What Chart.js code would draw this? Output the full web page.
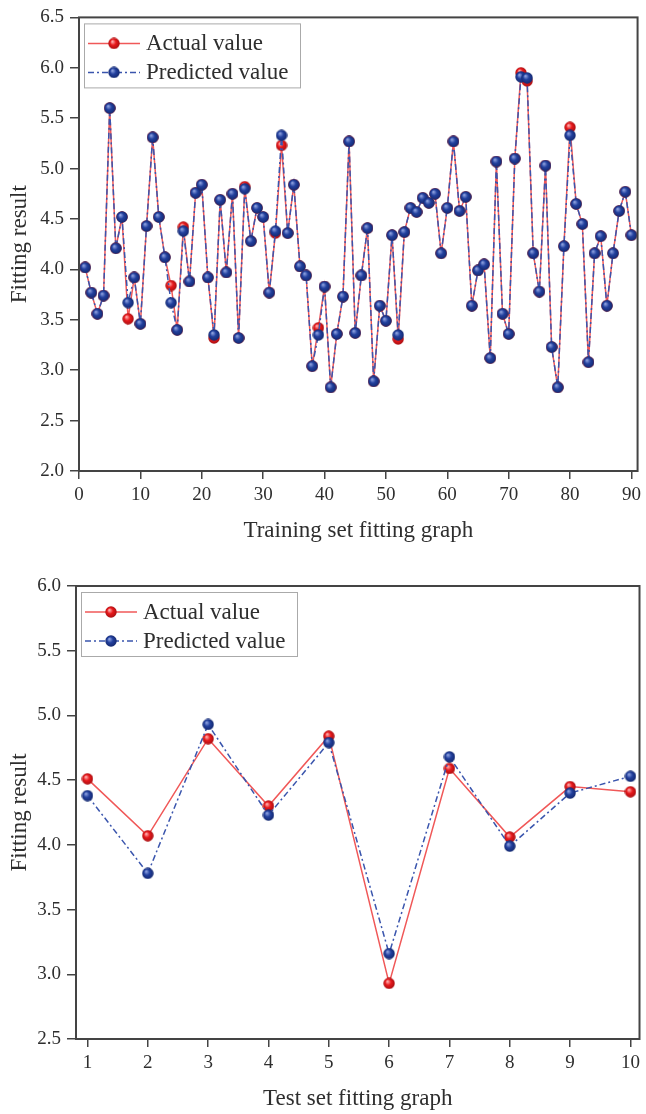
<!DOCTYPE html>
<html>
<head>
<meta charset="utf-8">
<script src="https://cdn.jsdelivr.net/npm/chart.js@4.4.1/dist/chart.umd.min.js"></script>
<style>
  html, body { margin: 0; padding: 0; background: #fff; }
  body { width: 646px; height: 1114px; overflow: hidden; }
  canvas { display: block; }
</style>
</head>
<body>
<canvas id="trainChart" width="646" height="557"></canvas>
<canvas id="testChart" width="646" height="557"></canvas>
<script>
// training set (samples 1..90)
const trainActual = [
  4.02, 3.77, 3.56, 3.74, 5.60, 4.21, 4.52, 3.51, 3.92, 3.46,
  4.43, 5.31, 4.52, 4.12, 3.84, 3.40, 4.42, 3.88, 4.76, 4.84,
  3.92, 3.32, 4.69, 3.97, 4.75, 3.32, 4.82, 4.28, 4.61, 4.52,
  3.77, 4.36, 5.23, 4.36, 4.84, 4.03, 3.94, 3.04, 3.42, 3.83,
  2.83, 3.36, 3.73, 5.27, 3.37, 3.94, 4.41, 2.89, 3.64, 3.49,
  4.34, 3.31, 4.37, 4.61, 4.57, 4.71, 4.66, 4.75, 4.16, 4.61,
  5.27, 4.58, 4.72, 3.64, 3.99, 4.05, 3.12, 5.07, 3.56, 3.36,
  5.10, 5.95, 5.87, 4.16, 3.78, 5.03, 3.23, 2.83, 4.23, 5.41,
  4.65, 4.45, 3.08, 4.16, 4.33, 3.64, 4.16, 4.58, 4.77, 4.34
];
const trainPredicted = [
  4.02, 3.77, 3.56, 3.74, 5.60, 4.21, 4.52, 3.67, 3.92, 3.46,
  4.43, 5.31, 4.52, 4.12, 3.67, 3.40, 4.38, 3.88, 4.76, 4.84,
  3.92, 3.35, 4.69, 3.97, 4.75, 3.32, 4.80, 4.28, 4.61, 4.52,
  3.77, 4.38, 5.33, 4.36, 4.84, 4.03, 3.94, 3.04, 3.35, 3.83,
  2.83, 3.36, 3.73, 5.27, 3.37, 3.94, 4.41, 2.89, 3.64, 3.49,
  4.34, 3.35, 4.37, 4.61, 4.57, 4.71, 4.66, 4.75, 4.16, 4.61,
  5.27, 4.58, 4.72, 3.64, 3.99, 4.05, 3.12, 5.07, 3.56, 3.36,
  5.10, 5.91, 5.90, 4.16, 3.78, 5.03, 3.23, 2.83, 4.23, 5.33,
  4.65, 4.45, 3.08, 4.16, 4.33, 3.64, 4.16, 4.58, 4.77, 4.34
];
const trainXTicks = [0, 10, 20, 30, 40, 50, 60, 70, 80, 90];
const trainYTicks = [2.0, 2.5, 3.0, 3.5, 4.0, 4.5, 5.0, 5.5, 6.0, 6.5];

// test set (samples 1..10)
const testActual = [4.51, 4.07, 4.82, 4.30, 4.84, 2.93, 4.59, 4.06, 4.45, 4.41];
const testPredicted = [4.38, 3.78, 4.93, 4.23, 4.79, 3.16, 4.68, 3.99, 4.40, 4.53];
const testXTicks = [1, 2, 3, 4, 5, 6, 7, 8, 9, 10];
const testYTicks = [2.5, 3.0, 3.5, 4.0, 4.5, 5.0, 5.5, 6.0];

const seriesNames = ['Actual value', 'Predicted value'];
const FONT = '"Liberation Serif", "Times New Roman", serif';
const INK = '#444';
const TEXT = '#2e2e2e';

// small shaded balls used as markers
function makeBall(light, mid, dark) {
  const c = document.createElement('canvas');
  c.width = 12; c.height = 12;
  const g = c.getContext('2d');
  const grad = g.createRadialGradient(4.3, 4, 0.4, 6, 6, 6);
  grad.addColorStop(0, light);
  grad.addColorStop(0.45, mid);
  grad.addColorStop(1, dark);
  g.fillStyle = grad;
  g.beginPath();
  g.arc(6, 6, 5.7, 0, Math.PI * 2);
  g.fill();
  return c;
}
const redBall = makeBall('#ffb0b0', '#e8191c', '#a50e10');
const blueBall = makeBall('#8ea2e0', '#22409e', '#13276c');

const redLine = '#f05858';
const blueLine = '#3a55ad';
const blueDash = [6, 3, 2, 3];

// box around plot + legend
const framePlugin = {
  id: 'frame',
  afterDatasetsDraw(chart) {
    const a = chart.chartArea;
    const ctx = chart.ctx;
    ctx.save();
    ctx.strokeStyle = INK;
    ctx.lineWidth = 2;
    ctx.strokeRect(a.left, a.top, a.right - a.left, a.bottom - a.top);
    ctx.restore();
  },
  afterDraw(chart) {
    const a = chart.chartArea;
    const ctx = chart.ctx;
    const bx = a.left + 5, by = a.top + 6, bw = 216, bh = 64;
    ctx.save();
    ctx.strokeStyle = '#aaa';
    ctx.lineWidth = 1;
    ctx.strokeRect(bx + 0.5, by + 0.5, bw, bh);
    const rows = [
      { y: by + 20, color: redLine, dash: [], ball: redBall, text: seriesNames[0] },
      { y: by + 49, color: blueLine, dash: blueDash, ball: blueBall, text: seriesNames[1] }
    ];
    rows.forEach(r => {
      ctx.strokeStyle = r.color;
      ctx.lineWidth = 1.5;
      ctx.setLineDash(r.dash);
      ctx.beginPath();
      ctx.moveTo(bx + 4, r.y);
      ctx.lineTo(bx + 56, r.y);
      ctx.stroke();
      ctx.setLineDash([]);
      ctx.drawImage(r.ball, bx + 30 - 6, r.y - 6);
      ctx.fillStyle = TEXT;
      ctx.font = '23px ' + FONT;
      ctx.textBaseline = 'middle';
      ctx.textAlign = 'left';
      ctx.fillText(r.text, bx + 62, r.y + 1);
    });
    ctx.restore();
  }
};

function makeChart(id, actual, predicted, xCfg, yCfg, xTitle) {
  const toPts = arr => arr.map((v, i) => ({ x: i + 1, y: v }));
  return new Chart(document.getElementById(id), {
    type: 'line',
    data: {
      datasets: [
        {
          label: seriesNames[0], data: toPts(actual), order: 2,
          borderColor: redLine, borderWidth: 1.5,
          pointStyle: redBall, pointRadius: 5, tension: 0
        },
        {
          label: seriesNames[1], data: toPts(predicted), order: 1,
          borderColor: blueLine, borderWidth: 1.5, borderDash: blueDash,
          pointStyle: blueBall, pointRadius: 5, tension: 0
        }
      ]
    },
    options: {
      responsive: false,
      animation: false,
      events: [],
      layout: { padding: xCfg.pad },
      plugins: { legend: { display: false }, tooltip: { enabled: false } },
      scales: {
        x: {
          type: 'linear', min: xCfg.min, max: xCfg.max,
          afterBuildTicks: s => { s.ticks = xCfg.ticks.map(v => ({ value: v })); },
          afterFit: s => { s.height = xCfg.height; },
          border: { display: false },
          grid: { drawOnChartArea: false, drawTicks: true, tickLength: 8, color: INK, lineWidth: 1.5 },
          ticks: { color: TEXT, padding: 5, font: { family: FONT, size: 19 }, maxRotation: 0 },
          title: { display: true, text: xTitle, color: TEXT, font: { family: FONT, size: 23 }, padding: { top: 0, bottom: xCfg.titlePad } }
        },
        y: {
          min: yCfg.min, max: yCfg.max,
          afterBuildTicks: s => { s.ticks = yCfg.ticks.map(v => ({ value: v })); },
          afterFit: s => { s.width = yCfg.width; },
          border: { display: false },
          grid: { drawOnChartArea: false, drawTicks: true, tickLength: 9, color: INK, lineWidth: 1.5 },
          ticks: { color: TEXT, padding: 6, font: { family: FONT, size: 19 }, callback: v => Number(v).toFixed(1) },
          title: { display: true, text: 'Fitting result', color: TEXT, font: { family: FONT, size: 23 }, padding: { top: 6, bottom: 0 } }
        }
      }
    },
    plugins: [framePlugin]
  });
}

makeChart('trainChart', trainActual, trainPredicted,
  { min: 0, max: 91, ticks: trainXTicks, height: 86, titlePad: 12, pad: { top: 17, right: 5, left: 0, bottom: 0 } },
  { min: 2.0, max: 6.5, ticks: trainYTicks, width: 79 },
  'Training set fitting graph');

makeChart('testChart', testActual, testPredicted,
  { min: 0.81, max: 10.15, ticks: testXTicks, height: 75, titlePad: 1, pad: { top: 29, right: 4, left: 0, bottom: 0 } },
  { min: 2.5, max: 6.0, ticks: testYTicks, width: 76 },
  'Test set fitting graph');
</script>
</body>
</html>
